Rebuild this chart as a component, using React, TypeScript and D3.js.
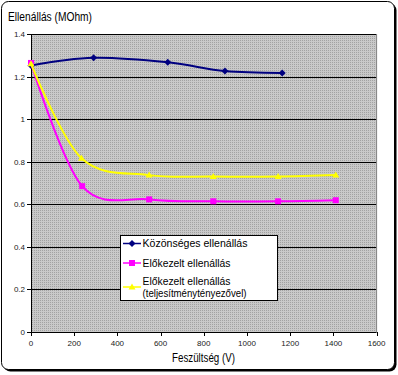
import React from "react";
import * as d3 from "d3";

const xTicks = [0, 200, 400, 600, 800, 1000, 1200, 1400, 1600];
const yTicks = [0, 0.2, 0.4, 0.6, 0.8, 1, 1.2, 1.4];

const seriesNames = [
  "Közönséges ellenállás",
  "Előkezelt ellenállás",
  "Előkezelt ellenállás (teljesítménytényezővel)",
];

const ordinaryX = [0, 290, 633, 898, 1163];
const ordinaryY = [1.252, 1.288, 1.267, 1.226, 1.217];

const treatedX = [0, 237, 547, 844, 1144, 1411];
const treatedY = [1.264, 0.685, 0.623, 0.614, 0.614, 0.619];

const treatedPfX = [0, 234, 547, 844, 1144, 1411];
const treatedPfY = [1.26, 0.816, 0.737, 0.73, 0.73, 0.737];

const colors = ["#000080", "#ff00ff", "#ffff00"];

const W = 398;
const H = 375;
const left = 31;
const right = 376.6;
const top = 34;
const bottom = 332;

export default function App() {
  const x = d3.scaleLinear().domain([0, 1600]).range([left, right]);
  const y = d3.scaleLinear().domain([0, 1.4]).range([bottom, top]);
  const line = d3
    .line<[number, number]>()
    .x((d) => x(d[0]))
    .y((d) => y(d[1]))
    .curve(d3.curveCardinal.tension(0));

  const series = [
    { xs: ordinaryX, ys: ordinaryY, marker: "diamond" },
    { xs: treatedX, ys: treatedY, marker: "square" },
    { xs: treatedPfX, ys: treatedPfY, marker: "triangle" },
  ];

  const marker = (kind: string, cx: number, cy: number, color: string, key: any) => {
    if (kind === "diamond")
      return (
        <path key={key} d={`M${cx},${cy - 3.5}L${cx + 3.5},${cy}L${cx},${cy + 3.5}L${cx - 3.5},${cy}Z`} fill={color} />
      );
    if (kind === "square")
      return <rect key={key} x={cx - 3} y={cy - 3} width={6} height={6} fill={color} />;
    return (
      <path key={key} d={`M${cx},${cy - 3.5}L${cx + 3.5},${cy + 2.5}L${cx - 3.5},${cy + 2.5}Z`} fill={color} />
    );
  };

  const font = "'Liberation Sans', Arial, sans-serif";

  const legendX = 120.5;
  const legendY = 235.5;
  const legendItems = [
    { lines: [seriesNames[0]], widths: [105], sy: 243.5, ty: [247] },
    { lines: [seriesNames[1]], widths: [88], sy: 263, ty: [267] },
    { lines: ["Előkezelt ellenállás", "(teljesítménytényezővel)"], widths: [88, 104], sy: 287, ty: [285, 297] },
  ];

  return (
    <svg
      width={W}
      height={H}
      style={{ position: "absolute", left: 0, top: 0 }}
      fontFamily={font}
    >
      <defs>
        <pattern id="dots" width={2} height={2} patternUnits="userSpaceOnUse">
          <rect width={2} height={2} fill="#c9c9c9" />
          <rect width={1} height={1} fill="#a2a2a2" />
        </pattern>
      </defs>
      <rect width={W} height={H} fill="white" />
      {/* shadow */}
      <rect x={3.5} y={3.5} width={393} height={368} rx={7} fill="black" />
      <rect x={1.5} y={1.5} width={393} height={368} rx={7} fill="white" stroke="black" strokeWidth={1} />

      {/* plot area */}
      <rect x={left} y={top} width={right - left} height={bottom - top} fill="url(#dots)" />
      {yTicks.filter((t) => t > 0).map((t) => (
        <line key={t} x1={left} x2={right} y1={Math.round(y(t)) + 0.5} y2={Math.round(y(t)) + 0.5} stroke="black" />
      ))}
      <line x1={right} x2={right} y1={top} y2={bottom} stroke="#808080" />

      {/* axes */}
      <line x1={left + 0.5} x2={left + 0.5} y1={top} y2={bottom + 0.5} stroke="black" />
      <line x1={left} x2={right} y1={bottom + 0.5} y2={bottom + 0.5} stroke="black" />
      {yTicks.map((t) => (
        <g key={t}>
          <line x1={left - 4} x2={left} y1={Math.round(y(t)) + 0.5} y2={Math.round(y(t)) + 0.5} stroke="black" />
          <text x={left - 6} y={y(t) + 3} fontSize={8} textAnchor="end" fill="#222">
            {String(t)}
          </text>
        </g>
      ))}
      {xTicks.map((t) => (
        <g key={t}>
          <line x1={Math.round(x(t)) + 0.5} x2={Math.round(x(t)) + 0.5} y1={bottom} y2={bottom + 4} stroke="black" />
          <text x={x(t)} y={346} fontSize={8} textAnchor="middle" fill="#222">
            {String(t)}
          </text>
        </g>
      ))}

      {/* series */}
      {series.map((s, i) => {
        const pts: [number, number][] = s.xs.map((v, j) => [v, s.ys[j]]);
        return (
          <g key={i}>
            <path d={line(pts) || ""} fill="none" stroke={colors[i]} strokeWidth={2} />
            {pts.map((p, j) => marker(s.marker, x(p[0]), y(p[1]), colors[i], j))}
          </g>
        );
      })}

      {/* legend */}
      <rect x={legendX} y={legendY} width={157} height={65} fill="white" stroke="black" />
      {legendItems.map((it, i) => (
        <g key={i}>
          <line x1={123} x2={141} y1={it.sy} y2={it.sy} stroke={colors[i]} strokeWidth={1.5} />
          {marker(series[i].marker, 132, it.sy, colors[i], "m")}
          {it.lines.map((l, k) => (
            <text
              key={k}
              x={142.5}
              y={it.ty[k]}
              fontSize={11}
              fill="black"
              textLength={it.widths[k]}
              lengthAdjust="spacingAndGlyphs"
            >
              {l}
            </text>
          ))}
        </g>
      ))}

      {/* titles */}
      <text x={8} y={21} fontSize={12} fill="black" textLength={84} lengthAdjust="spacingAndGlyphs">
        Ellenállás (MOhm)
      </text>
      <text x={172} y={362} fontSize={12} fill="black" textLength={63} lengthAdjust="spacingAndGlyphs">
        Feszültség (V)
      </text>
    </svg>
  );
}
